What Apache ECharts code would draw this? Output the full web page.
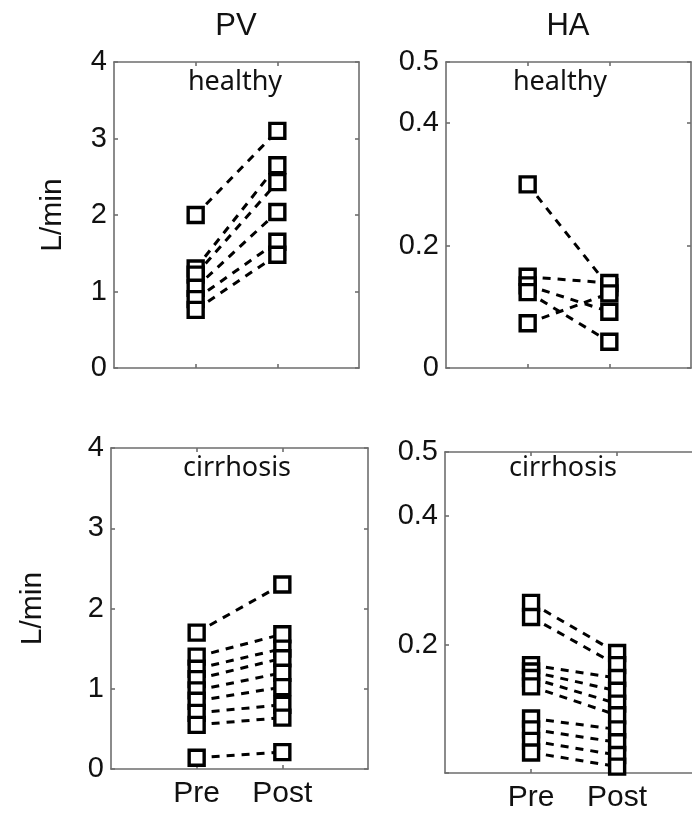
<!DOCTYPE html>
<html>
<head>
<meta charset="utf-8">
<script src="https://cdn.jsdelivr.net/npm/echarts@6/dist/echarts.min.js"></script>
<style>
  html, body { margin: 0; padding: 0; background: #fff; }
  #chart { width: 692px; height: 813px; }
</style>
</head>
<body>
<div id="chart"></div>
<script>
// Pre / Post flow, one pair of values per subject
const categories = ['Pre', 'Post'];

const pvHealthyPre = [2.0, 1.3, 1.22, 1.05, 0.9, 0.76];
const pvHealthyPost = [3.1, 2.65, 2.43, 2.04, 1.65, 1.48];

const haHealthyPre = [0.30, 0.149, 0.135, 0.124, 0.073];
const haHealthyPost = [0.132, 0.139, 0.092, 0.043, 0.122];

const pvCirrhosisPre = [1.70, 1.40, 1.25, 1.12, 0.98, 0.85, 0.70, 0.55, 0.14];
const pvCirrhosisPost = [2.30, 1.68, 1.50, 1.38, 1.20, 1.02, 0.80, 0.64, 0.21];

const haCirrhosisPre = [0.265, 0.243, 0.168, 0.158, 0.148, 0.135, 0.085, 0.068, 0.050, 0.032];
const haCirrhosisPost = [0.187, 0.168, 0.148, 0.128, 0.108, 0.090, 0.068, 0.048, 0.028, 0.010];

const pvTicks = [0, 1, 2, 3, 4];
const haTicks = [0, 0.2, 0.4, 0.5];
const haCirrhosisLabels = [0.2, 0.4, 0.5];

// last panel runs off the right edge of the figure, so its x range is cut short
const panels = [
    { pre: pvHealthyPre, post: pvHealthyPost, max: 4, ticks: pvTicks, labels: pvTicks, name: 'L/min', nameGap: 46,
      showX: false, xMax: 3, rightLine: true,
      grid: { left: 114, top: 62, width: 245, height: 306 } },
    { pre: haHealthyPre, post: haHealthyPost, max: 0.5, ticks: haTicks, labels: haTicks, name: '',
      showX: false, xMax: 3, rightLine: true,
      grid: { left: 446, top: 62, width: 245, height: 306 } },
    { pre: pvCirrhosisPre, post: pvCirrhosisPost, max: 4, ticks: pvTicks, labels: pvTicks, name: 'L/min', nameGap: 63,
      showX: true, xMax: 3, rightLine: true,
      grid: { left: 111, top: 448, width: 257, height: 321 } },
    { pre: haCirrhosisPre, post: haCirrhosisPost, max: 0.5, ticks: haTicks, labels: haCirrhosisLabels, name: '',
      showX: true, xMax: 2.87, rightLine: false,
      grid: { left: 445, top: 452, right: 0, height: 321 } }
];

const frame = { color: '#6e6e6e', width: 1.6 };
const labelFont = { fontFamily: 'Liberation Sans', fontSize: 29, color: '#111' };

const grid = [], xAxis = [], yAxis = [], series = [];

panels.forEach((p, i) => {
    grid.push(Object.assign({ containLabel: false }, p.grid));

    // bottom + top x axes (box style, ticks inside)
    xAxis.push({
        gridIndex: i, type: 'value', min: 0, max: p.xMax, position: 'bottom',
        axisLine: { show: true, onZero: false, lineStyle: frame },
        axisTick: { show: true, inside: true, length: 4, customValues: [1, 2], lineStyle: frame },
        axisLabel: {
            show: p.showX, customValues: [1, 2], margin: 10,
            formatter: v => categories[Math.round(v) - 1],
            fontFamily: 'Liberation Sans', fontSize: 30, color: '#111'
        },
        splitLine: { show: false }
    });
    xAxis.push({
        gridIndex: i, type: 'value', min: 0, max: p.xMax, position: 'top',
        axisLine: { show: true, onZero: false, lineStyle: frame },
        axisTick: { show: true, inside: true, length: 4, customValues: [1, 2], lineStyle: frame },
        axisLabel: { show: false },
        splitLine: { show: false }
    });

    yAxis.push({
        gridIndex: i, type: 'value', min: 0, max: p.max, position: 'left',
        name: p.name, nameLocation: 'middle', nameGap: p.nameGap || 0,
        nameTextStyle: { fontFamily: 'Liberation Sans', fontSize: 30, color: '#111' },
        axisLine: { show: true, onZero: false, lineStyle: frame },
        axisTick: { show: true, inside: true, length: 4, customValues: p.ticks, lineStyle: frame },
        axisLabel: Object.assign({ customValues: p.labels, margin: 7 }, labelFont),
        splitLine: { show: false }
    });
    yAxis.push({
        gridIndex: i, type: 'value', min: 0, max: p.max, position: 'right', show: p.rightLine,
        axisLine: { show: true, onZero: false, lineStyle: frame },
        axisTick: { show: true, inside: true, length: 4, customValues: p.ticks, lineStyle: frame },
        axisLabel: { show: false },
        splitLine: { show: false }
    });

    p.pre.forEach((v, k) => {
        series.push({
            type: 'line', xAxisIndex: i * 2, yAxisIndex: i * 2,
            data: [[1, v], [2, p.post[k]]],
            showSymbol: false, silent: true, z: 2,
            lineStyle: { color: '#000', width: 3, type: [8, 7] }
        });
    });

    const pts = p.pre.map(v => [1, v]).concat(p.post.map(v => [2, v]));
    series.push({
        type: 'scatter', xAxisIndex: i * 2, yAxisIndex: i * 2,
        data: pts, symbol: 'rect', symbolSize: 15, z: 3,
        itemStyle: { color: '#fff', borderColor: '#000', borderWidth: 3.4, opacity: 1 }
    });
});

const textStyle = (t, x, y, font) => ({
    type: 'text', x: x, y: y,
    style: { text: t, align: 'center', verticalAlign: 'middle', font: font, fill: '#111' }
});

const option = {
    backgroundColor: '#fff',
    animation: false,
    grid: grid,
    xAxis: xAxis,
    yAxis: yAxis,
    series: series,
    graphic: [
        textStyle('PV', 236, 26, '31px "Liberation Sans"'),
        textStyle('HA', 568, 26, '31px "Liberation Sans"'),
        textStyle('healthy', 235, 82, '27px "Noto Sans"'),
        textStyle('healthy', 560, 82, '27px "Noto Sans"'),
        textStyle('cirrhosis', 237, 468, '27px "Noto Sans"'),
        textStyle('cirrhosis', 563, 468, '27px "Noto Sans"')
    ]
};

const myChart = echarts.init(document.getElementById('chart'));
myChart.setOption(option);
</script>
</body>
</html>
